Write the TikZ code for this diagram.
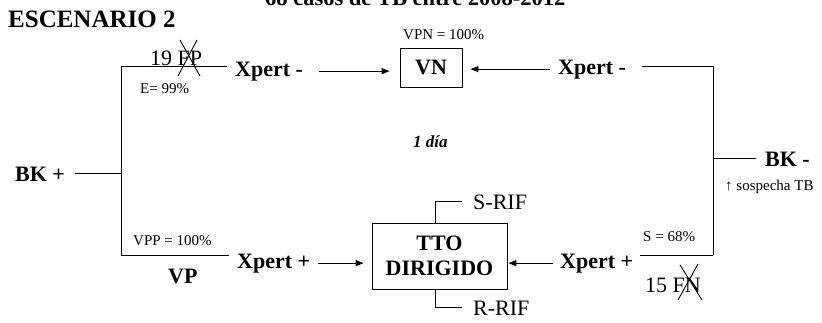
\documentclass[tikz,border=0pt]{standalone}
\usepackage{fontspec}
\setmainfont{Liberation Serif}
\usetikzlibrary{arrows.meta}
\begin{document}
\begin{tikzpicture}[x=1pt,y=-1pt,
  big/.style={font=\fontsize{22}{25}\selectfont\bfseries, inner sep=0pt},
  reg/.style={font=\fontsize{22}{25}\selectfont, inner sep=0pt},
  small/.style={font=\fontsize{15}{17}\selectfont, inner sep=0pt},
  ln/.style={line width=0.9pt},
  arr/.style={line width=0.9pt, -{Triangle[length=8pt,width=6pt]}},
  box/.style={draw, line width=0.9pt}]
\clip (0,0) rectangle (822,322);
\useasboundingbox (0,0) rectangle (822,322);
% texts
\node[big,font=\fontsize{22.5}{25}\selectfont\bfseries,anchor=base west] (title) at (265,5) {68 casos de TB entre 2008-2012};
\node[big,font=\fontsize{25}{28}\selectfont\bfseries,anchor=base west] (esc) at (8,27) {ESCENARIO 2};
\node[big,anchor=base west] (bkp) at (15,181) {BK +};
\node[reg,anchor=base west] (fp) at (150,65) {19 FP};
\node[small,anchor=base west] (e99) at (140,93) {E= 99\%};
\node[big,anchor=base west] (xtl) at (235,76) {Xpert -};
\node[box,big,minimum width=62pt,minimum height=39pt] (vn) at (431,67.5) {VN};
\node[small,anchor=base west] (vpn) at (403,39) {VPN = 100\%};
\node[big,anchor=base west] (xtr) at (558,74) {Xpert -};
\node[big,anchor=base west] (bkm) at (765,166) {BK -};
\node[small,anchor=base west] (sosp) at (725,190) {↑ sospecha TB};
\node[font=\fontsize{17}{20}\selectfont\bfseries\itshape,inner sep=0pt,anchor=base west] (dia) at (413,147) {1 día};
\node[box,big,align=center,minimum width=135pt,minimum height=66pt] (tto) at (439.5,256) {TTO\\DIRIGIDO};
\node[reg,anchor=base west] (srif) at (473,209) {S-RIF};
\node[reg,anchor=base west] (rrif) at (473,315) {R-RIF};
\node[small,anchor=base west] (vpp) at (133,245) {VPP = 100\%};
\node[big,anchor=base west] (vp) at (168,283) {VP};
\node[big,anchor=base west] (xbl) at (237,268) {Xpert +};
\node[big,anchor=base west] (xbr) at (560,268) {Xpert +};
\node[small,anchor=base west] (s68) at (643,241) {S = 68\%};
\node[reg,anchor=base west] (fn) at (645,292) {15 FN};
% crosses
\draw[ln] (180,40) -- (200,76);
\draw[ln] (197,40) -- (178,76);
\draw[ln] (680,265) -- (702,300);
\draw[ln] (698,264) -- (678,300);
% brackets
\coordinate (lt) at (121,66);
\coordinate (lb) at (121,255);
\coordinate (rt) at (713,66);
\coordinate (rb) at (713,255);
\coordinate (sx) at (435,0);
\draw[ln] (lt) -- (lb);
\draw[ln] ([xshift=10pt]bkp.east) -- (bkp.east -| lt);
\draw[ln,shorten >=8pt] (lt) -- (lt -| xtl.west);
\draw[ln,shorten >=8pt] (lb) -- (lb -| xbl.west);
\draw[ln] (rt) -- (rb);
\draw[ln,shorten >=16pt] (rt) -- (rt -| xtr.east);
\draw[ln,shorten >=7pt] (rb) -- (rb -| xbr.east);
\draw[ln,shorten >=9pt] (bkm.west -| rt) -- (bkm.west);
\draw[ln,shorten >=11pt] (sx |- tto.north) |- (srif.west);
\draw[ln,shorten >=11pt] (sx |- tto.south) |- (rrif.west);
% arrows
\draw[arr,shorten <=16pt,shorten >=10pt] (xtl.east) -- (xtl.east -| vn.west);
\draw[arr,shorten <=8pt,shorten >=8pt] (xtr.west) -- (xtr.west -| vn.east);
\draw[arr,shorten <=8pt,shorten >=8pt] (xbl.east) -- (xbl.east -| tto.west);
\draw[arr,shorten <=7pt,shorten >=1pt] (xbr.west) -- (xbr.west -| tto.east);
\end{tikzpicture}
\end{document}
